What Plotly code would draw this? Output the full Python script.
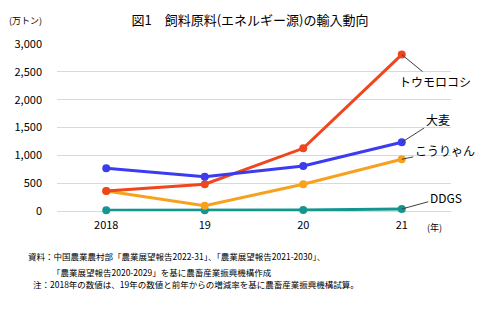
import plotly.graph_objects as go

years = ["2018", "19", "20", "21"]
corn = [359, 480, 1126, 2810]
barley = [767, 616, 808, 1234]
sorghum = [359, 95, 480, 929]
ddgs = [15, 15, 18, 36]

series_names = ["トウモロコシ", "大麦", "こうりゃん", "DDGS"]
colors = ["#f0451d", "#3b3bf0", "#f7a21f", "#14968f"]
label_offsets = [(33, 27), (36, -23), (43, -9), (44, -12)]

FONT = "Noto Sans CJK JP"
fig = go.Figure()
data = [corn, barley, sorghum, ddgs]
order = [3, 2, 0, 1]
for i in order:
    fig.add_trace(go.Scatter(
        x=years, y=data[i], mode="lines+markers", name=series_names[i],
        line=dict(color=colors[i], width=3),
        marker=dict(color=colors[i], size=8),
        cliponaxis=False, showlegend=False))

last_idx = len(years) - 1
for i, name in enumerate(series_names):
    ax, ay = label_offsets[i]
    fig.add_annotation(x=last_idx, y=data[i][-1], text=name, showarrow=True,
                       arrowhead=0, arrowwidth=1, arrowcolor="#404040",
                       ax=ax, ay=ay, font=dict(size=12, color="#000", family=FONT))

fig.add_annotation(xref="paper", yref="paper", x=-0.079, y=1.138, xanchor="center",
                   yanchor="middle", text="(万トン)", showarrow=False,
                   font=dict(size=9, color="#000", family=FONT))
fig.add_annotation(xref="paper", yref="paper", x=0.959, y=-0.096, xanchor="center",
                   yanchor="middle", text="(年)", showarrow=False,
                   font=dict(size=9, color="#000", family=FONT))

notes = [
    ("資料：中国農業農村部「農業展望報告2022-31」、「農業展望報告2021-2030」、", 26, 256),
    ("「農業展望報告2020-2029」を基に農畜産業振興機構作成", 50, 272),
    ("注：2018年の数値は、19年の数値と前年からの増減率を基に農畜産業振興機構試算。", 31, 284),
]
for txt, px, py in notes:
    fig.add_annotation(xref="paper", yref="paper",
                       x=(px - 57) / 394, y=(211 - py) / 167,
                       xanchor="left", yanchor="middle", text=txt, showarrow=False,
                       font=dict(size=8.5, color="#000", family=FONT))

fig.update_layout(
    width=495, height=322,
    margin=dict(l=57, r=44, t=44, b=111),
    paper_bgcolor="white", plot_bgcolor="white",
    title=dict(text="図1　飼料原料(エネルギー源)の輸入動向", x=0.505, xanchor="center",
               y=1 - 20 / 322, yanchor="middle",
               font=dict(size=13, color="#000", family=FONT)),
    xaxis=dict(type="category", range=[-0.5, 3.5], showgrid=False, showline=False,
               zeroline=False, ticks="", ticklabelstandoff=6,
               tickfont=dict(size=11, color="#000", family=FONT)),
    yaxis=dict(range=[0, 3000], dtick=500, tickformat=",", showgrid=True,
               gridcolor="#d9d9d9", gridwidth=1, zeroline=True, zerolinecolor="#d9d9d9",
               zerolinewidth=1, showline=False, ticks="", ticklabelstandoff=14,
               tickfont=dict(size=11, color="#000", family=FONT)),
)

fig.write_html("out.html")
